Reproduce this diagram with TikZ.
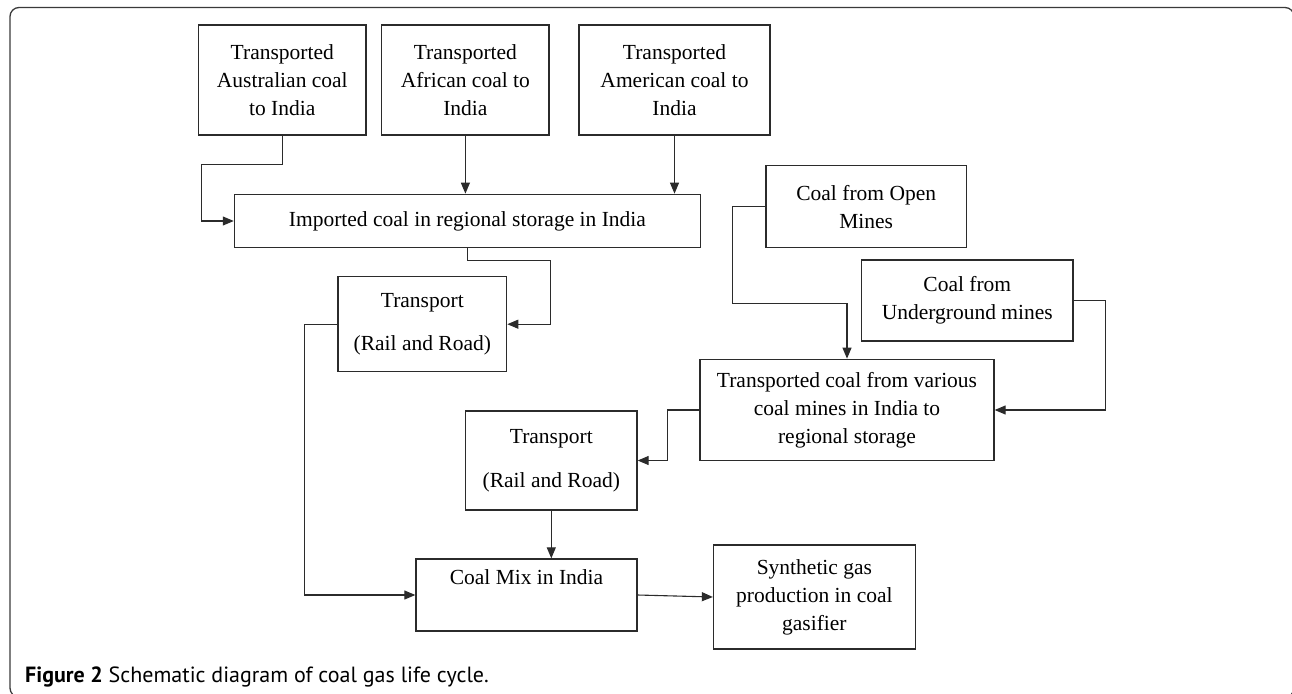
\documentclass[tikz,border=0pt]{standalone}
\usepackage{fontspec}
\setmainfont{Liberation Serif}
\newfontfamily\capfont{PT Sans}
\usetikzlibrary{arrows.meta}

\begin{document}
\begin{tikzpicture}[x=1pt,y=-1pt,
  blk/.style={draw=boxline,line width=1.3pt,inner sep=0pt,align=center,
    font=\fontsize{21.5}{28}\selectfont},
  arr/.style={draw=boxline,line width=1.1pt,-{Triangle[length=11pt,width=9pt]}}]
\definecolor{boxline}{HTML}{2B2B2B}
\definecolor{framecol}{HTML}{3A3A3A}
\useasboundingbox (0,0) rectangle (1292,693);
\begin{scope}
  \clip (0,0) rectangle (1292,693);
  \draw[framecol,line width=1.3pt,rounded corners=9pt] (10,7.5) rectangle (1294,697);
\end{scope}

% imported coal
\node[blk,minimum width=167.4,minimum height=110] (aus) at (282.3,80) {Transported\\Australian coal\\to India};
\node[blk,minimum width=167.3,minimum height=110] (afr) at (465.4,80) {Transported\\African coal to\\India};
\node[blk,minimum width=191,minimum height=110] (ame) at (674.5,80) {Transported\\American coal to\\India};
\node[blk,minimum width=466,minimum height=53.4] (imp) at (467.4,221) {Imported coal in regional storage in India};
\node[blk,minimum width=168.7,minimum height=95] (tr1) at (422.3,324.2) {Transport\\[15pt](Rail and Road)};

% indian coal
\node[blk,minimum width=200.6,minimum height=82] (mine1) at (866.2,206.7) {Coal from Open\\Mines};
\node[blk,minimum width=211.2,minimum height=81] (mine2) at (967.3,300.5) {Coal from\\Underground mines};
\node[blk,minimum width=294,minimum height=101.4] (var) at (847,410) {Transported coal from various\\coal mines in India to\\regional storage};
\node[blk,minimum width=171.4,minimum height=99] (tr2) at (551.3,460.5) {Transport\\[16pt](Rail and Road)};

% mix and gasifier
\node[blk,minimum width=221,minimum height=72] (mix) at (526.5,595) {Coal Mix in India\\\strut};
\node[blk,minimum width=201.8,minimum height=104] (syn) at (814.4,597) {Synthetic gas\\production in coal\\gasifier};

\draw[arr] (aus.south) -- ++(0,29) -| ([xshift=-32pt]imp.west) -- (imp.west);
\draw[arr] (afr.south) -- (afr.south |- imp.north);
\draw[arr] (ame.south) -- (ame.south |- imp.north);
\draw[arr] (imp.south) -- ++(0,12) -| ([xshift=43pt]tr1.east) -- (tr1.east);
\draw[arr] (tr1.west) -- ++(-33,0) |- (mix.west);
\draw[arr] (mine1.west) -- ++(-33,0) -- ++(0,97) -| (var.north);
\draw[arr] (mine2.east) -- ++(32,0) |- (var.east);
\draw[arr] (var.west) -- ++(-32,0) |- (tr2.east);
\draw[arr] (tr2.south) -- (tr2.south |- mix.north);
\draw[arr] (mix.east) -- (syn.west);

\node[anchor=base west,inner sep=0pt,font=\capfont\fontsize{22}{26}\selectfont] (cap) at (25,682)
  {\textbf{Figure 2} Schematic diagram of coal gas life cycle.};
\end{tikzpicture}
\end{document}
